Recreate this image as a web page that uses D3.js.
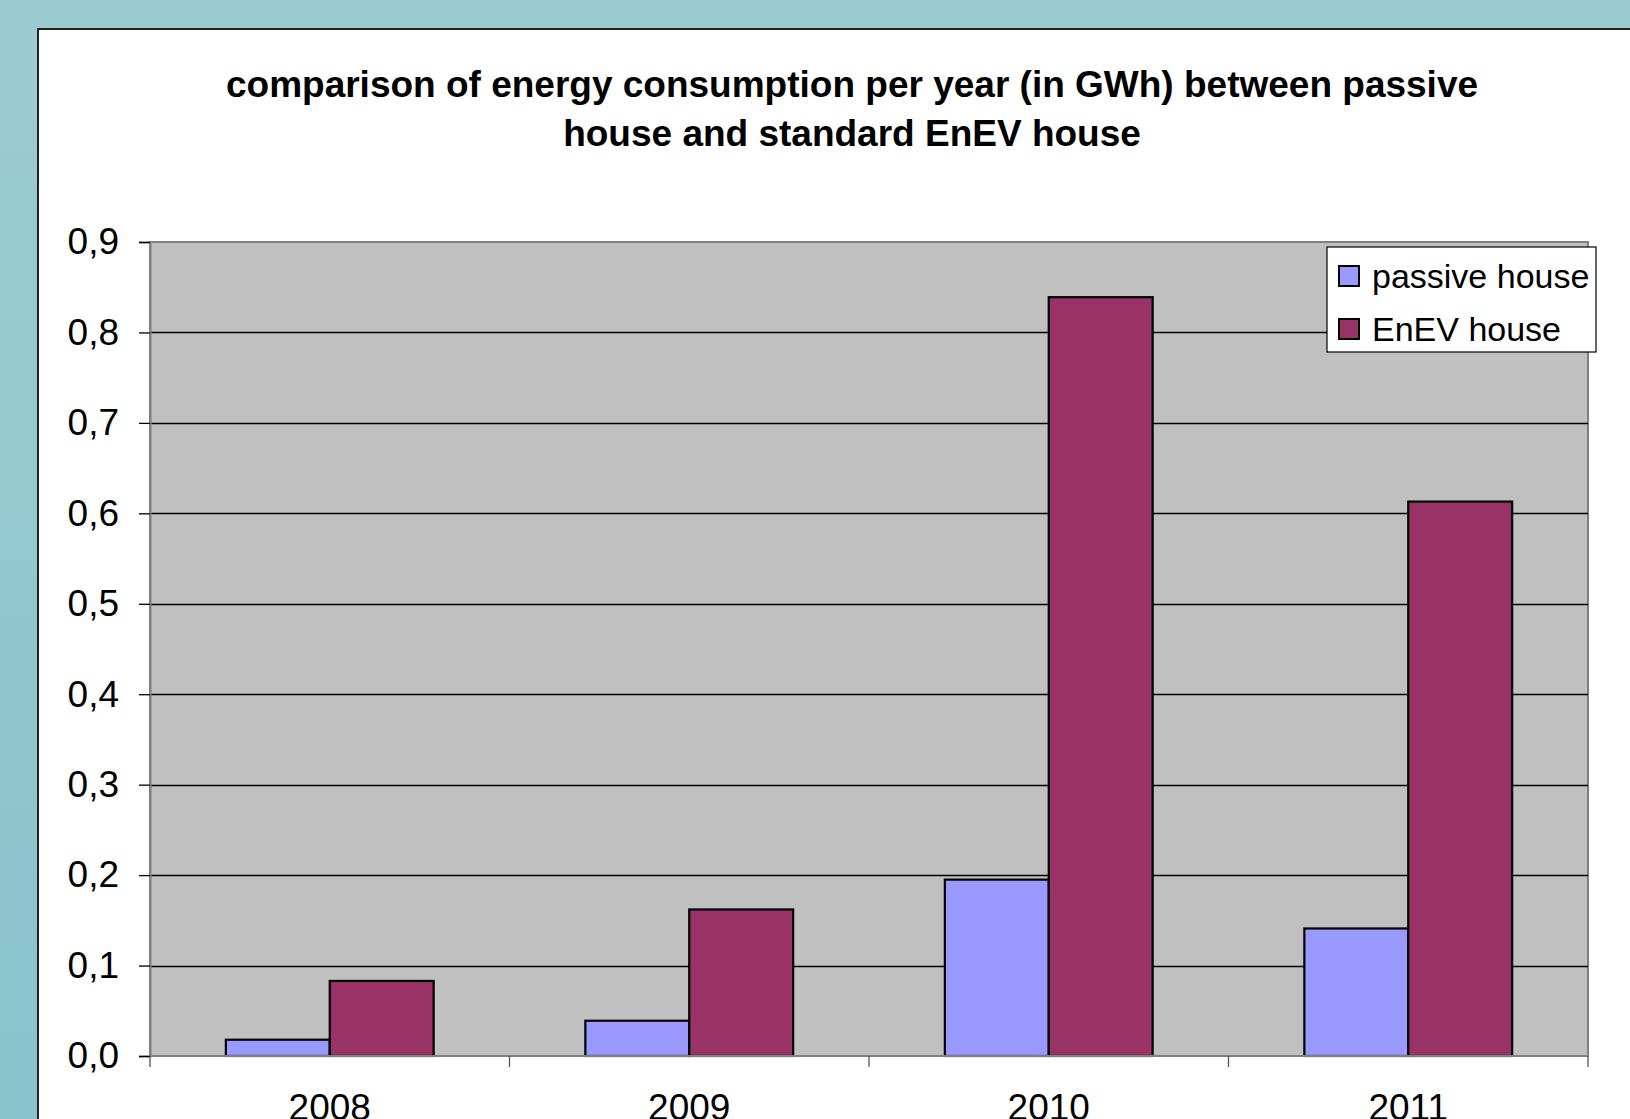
<!DOCTYPE html>
<html>
<head>
<meta charset="utf-8">
<script src="https://cdn.jsdelivr.net/npm/d3@7"></script>
<style>
  html, body { margin: 0; padding: 0; overflow: hidden; }
  svg { display: block; font-family: "Liberation Sans", Arial, sans-serif; }
</style>
</head>
<body>
<svg id="chart" width="1630" height="1119"></svg>
<script>
// DATA
const years = ["2008", "2009", "2010", "2011"];
const seriesNames = ["passive house", "EnEV house"];
const passiveValues = [0.018, 0.039, 0.195, 0.141];
const enevValues = [0.083, 0.162, 0.839, 0.613];
const yTicks = [0, 0.1, 0.2, 0.3, 0.4, 0.5, 0.6, 0.7, 0.8, 0.9];
const titleLines = [
  "comparison of energy consumption per year (in GWh) between passive",
  "house and standard EnEV house"
];
const colors = ["#9999FF", "#993366"];

const svg = d3.select("#chart");
const W = 1630, H = 1119;

// background gradient + white panel
const defs = svg.append("defs");
const grad = defs.append("linearGradient")
  .attr("id", "bg").attr("x1", 0).attr("y1", 0).attr("x2", 0).attr("y2", 1);
grad.append("stop").attr("offset", "0%").attr("stop-color", "#9BCCD1");
grad.append("stop").attr("offset", "100%").attr("stop-color", "#88C3CC");
svg.append("rect").attr("width", W).attr("height", H).attr("fill", "url(#bg)");

svg.append("rect")
  .attr("x", 38).attr("y", 29)
  .attr("width", W).attr("height", H)
  .attr("fill", "#fff")
  .attr("stroke", "#222").attr("stroke-width", 2);

// title
const title = svg.append("text")
  .attr("text-anchor", "middle")
  .attr("font-weight", "bold")
  .attr("font-size", 37)
  .attr("fill", "#000");
titleLines.forEach((line, i) => {
  title.append("tspan").attr("x", 852).attr("y", 97 + i * 49).text(line);
});

// PLOT
const margin = { top: 242, left: 150, right: 1588, bottom: 1056 };

const x0 = d3.scaleBand()
  .domain(years)
  .range([margin.left, margin.right])
  .paddingInner(0)
  .paddingOuter(0);

const x1 = d3.scaleBand()
  .domain(seriesNames)
  .range([0, x0.bandwidth()])
  .paddingInner(0)
  .paddingOuter(0.73);

const y = d3.scaleLinear()
  .domain([0, 0.9])
  .range([margin.bottom, margin.top]);

// plot area
svg.append("rect")
  .attr("x", margin.left).attr("y", margin.top)
  .attr("width", margin.right - margin.left)
  .attr("height", margin.bottom - margin.top)
  .attr("fill", "#C0C0C0")
  .attr("stroke", "#808080").attr("stroke-width", 2);

// gridlines
svg.append("g")
  .selectAll("line")
  .data(yTicks.filter((d) => d > 0 && d < 0.9))
  .join("line")
  .attr("x1", margin.left).attr("x2", margin.right)
  .attr("y1", (d) => Math.round(y(d)) + 0.5)
  .attr("y2", (d) => Math.round(y(d)) + 0.5)
  .attr("stroke", "#000").attr("stroke-width", 1.3);

// bars
const data = years.map((yr, i) => ({
  year: yr,
  values: [
    { key: seriesNames[0], value: passiveValues[i], color: colors[0] },
    { key: seriesNames[1], value: enevValues[i], color: colors[1] }
  ]
}));

svg.append("g")
  .selectAll("g")
  .data(data)
  .join("g")
  .attr("transform", (d) => `translate(${x0(d.year)},0)`)
  .selectAll("rect")
  .data((d) => d.values)
  .join("rect")
  .attr("x", (d) => x1(d.key))
  .attr("y", (d) => y(d.value))
  .attr("width", x1.bandwidth())
  .attr("height", (d) => y(0) - y(d.value))
  .attr("fill", (d) => d.color)
  .attr("stroke", "#000")
  .attr("stroke-width", 2.2);

// y axis
const yAxis = d3.axisLeft(y)
  .tickValues(yTicks)
  .tickSize(11)
  .tickPadding(20)
  .tickFormat((d) => d3.format(".1f")(d).replace(".", ","));

const gy = svg.append("g")
  .attr("transform", `translate(${margin.left},0)`)
  .call(yAxis);
gy.select(".domain").attr("stroke", "#808080").attr("stroke-width", 2);
gy.selectAll(".tick line").attr("stroke", "#000").attr("stroke-width", 1.3);
gy.selectAll(".tick text")
  .attr("font-size", 37)
  .attr("font-family", "'Liberation Sans', Arial, sans-serif")
  .attr("fill", "#000");

// x axis: ticks at category boundaries
const gx = svg.append("g")
  .attr("transform", `translate(0,${margin.bottom})`);
gx.append("line")
  .attr("x1", margin.left).attr("x2", margin.right)
  .attr("stroke", "#808080").attr("stroke-width", 2);
const boundaries = years.map((d) => x0(d)).concat([x0(years[years.length - 1]) + x0.bandwidth()]);
gx.selectAll("line.tk")
  .data(boundaries)
  .join("line")
  .attr("class", "tk")
  .attr("x1", (d) => d).attr("x2", (d) => d)
  .attr("y1", 0).attr("y2", 11)
  .attr("stroke", "#555").attr("stroke-width", 1.3);
gx.selectAll("text")
  .data(years)
  .join("text")
  .attr("x", (d) => x0(d) + x0.bandwidth() / 2)
  .attr("y", 64)
  .attr("text-anchor", "middle")
  .attr("font-size", 37)
  .attr("fill", "#000")
  .text((d) => d);

// legend
const legend = svg.append("g").attr("transform", "translate(1327,247)");
legend.append("rect")
  .attr("width", 269).attr("height", 105)
  .attr("fill", "#fff")
  .attr("stroke", "#000").attr("stroke-width", 1.2);
const items = legend.selectAll("g.item")
  .data(seriesNames)
  .join("g")
  .attr("class", "item")
  .attr("transform", (d, i) => `translate(12,${19 + i * 53})`);
items.append("rect")
  .attr("width", 20).attr("height", 20)
  .attr("fill", (d, i) => colors[i])
  .attr("stroke", "#000").attr("stroke-width", 2);
items.append("text")
  .attr("x", 33).attr("y", 22)
  .attr("font-size", 34)
  .attr("fill", "#000")
  .text((d) => d);
</script>
</body>
</html>
